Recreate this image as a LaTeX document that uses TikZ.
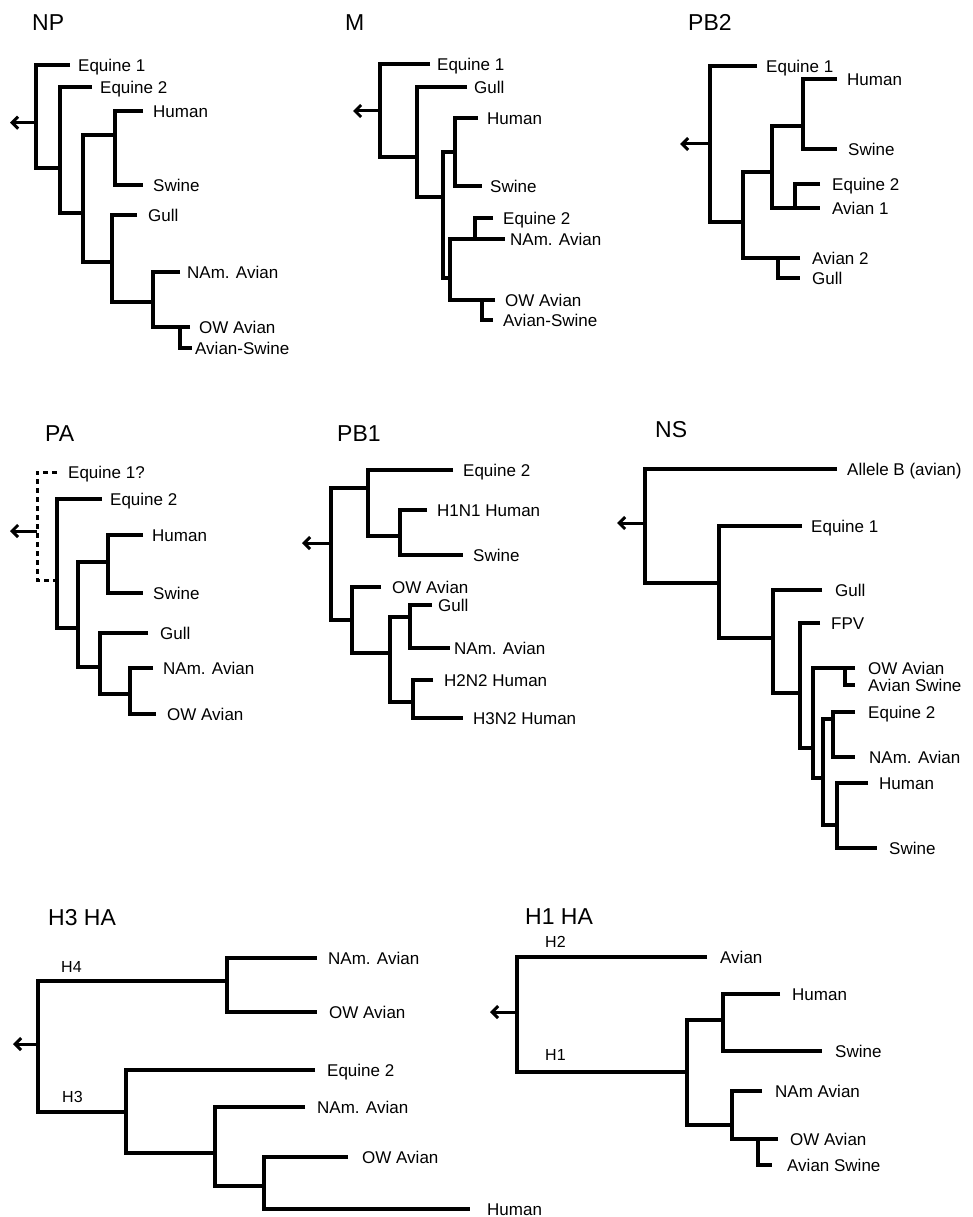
\documentclass[tikz,border=0pt]{standalone}
\usepackage{fontspec}
\setmainfont{Liberation Sans}
\usetikzlibrary{arrows.meta}
\tikzset{
  branche/.style={line width=4pt,line join=miter},
  pointille/.style={line width=3pt,dash pattern=on 5pt off 4pt},
  racine/.style={line width=3pt,-{Straight Barb[length=6pt,width=12pt]}},
  feuille/.style={anchor=west,inner sep=0pt,font=\fontsize{17}{19}\selectfont,
                  text height=12.2pt,text depth=0pt},
  titre/.style={anchor=west,inner sep=0pt,font=\fontsize{23}{26}\selectfont,
                text height=16.5pt,text depth=0pt},
  sous/.style={feuille,font=\fontsize{16}{18}\selectfont,text height=11.5pt},
}

\begin{document}
\begin{tikzpicture}[x=1pt,y=-1pt]
  \useasboundingbox[fill=white] (0,0) rectangle (973,1217);

  % NP
  \node[titre] (t-np) at (32,22) {NP};
  \foreach \nm/\px/\py/\lx/\txt in {e1/70/65/78/Equine 1, e2/92/87/100/Equine 2,
      hu/143/111/153/Human, sw/143/185/153/Swine, gu/137/215/148/Gull,
      na/180/272/187/NAm. Avian, ow/190/327/199/OW Avian, as/192/348/195/Avian-Swine}
    {\coordinate (np-\nm) at (\px,\py); \node[feuille] (np-\nm-l) at (\lx,\py) {\txt};}
  \coordinate (np-r) at (36,122.7);
  \coordinate (np-1) at (60,168);
  \coordinate (np-2) at (83,213);
  \coordinate (np-3) at (115,135);
  \coordinate (np-4) at (112,262);
  \coordinate (np-5) at (153,302);
  \coordinate (np-6) at (180,327);
  \coordinate (np-fl) at (10,122.7);
  \draw[branche] (np-e1) -| (np-r) |- (np-1);
  \draw[branche] (np-e2) -| (np-1) |- (np-2);
  \draw[branche] (np-3) -| (np-2) |- (np-4);
  \draw[branche] (np-hu) -| (np-3) |- (np-sw);
  \draw[branche] (np-gu) -| (np-4) |- (np-5);
  \draw[branche] (np-na) -| (np-5) |- (np-6);
  \draw[branche] (np-ow) -| (np-6) |- (np-as);
  \draw[racine] (np-r) -- (np-fl);

  % M
  \node[titre] (t-m) at (345,22) {M};
  \foreach \nm/\px/\py/\lx/\txt in {e1/430/64/437/Equine 1, gu/467/87/474/Gull,
      hu/478/118/487/Human, sw/482/186/490/Swine, e2/493/218/503/Equine 2,
      na/505/239/510/NAm. Avian, ow/495/300/505/OW Avian, as/493/320/503/Avian-Swine}
    {\coordinate (m-\nm) at (\px,\py); \node[feuille] (m-\nm-l) at (\lx,\py) {\txt};}
  \coordinate (m-r) at (380,111);
  \coordinate (m-1) at (417,157);
  \coordinate (m-2) at (443,197);
  \coordinate (m-3) at (455,152);
  \coordinate (m-4) at (450,278);
  \coordinate (m-5) at (475,239);
  \coordinate (m-6) at (482,300);
  \coordinate (m-fl) at (353,111);
  \draw[branche] (m-e1) -| (m-r) |- (m-1);
  \draw[branche] (m-gu) -| (m-1) |- (m-2);
  \draw[branche] (m-3) -| (m-2) |- (m-4);
  \draw[branche] (m-hu) -| (m-3) |- (m-sw);
  \draw[branche] (m-5) -| (m-4) |- (m-6);
  \draw[branche] (m-e2) -| (m-5) |- (m-na);
  \draw[branche] (m-ow) -| (m-6) |- (m-as);
  \draw[racine] (m-r) -- (m-fl);

  % PB2
  \node[titre] (t-pb2) at (688,22) {PB2};
  \foreach \nm/\px/\py/\lx/\txt in {e1/757/66/766/Equine 1, hu/837/79/847/Human,
      sw/837/149/848/Swine, e2/820/184/832/Equine 2, a1/820/208/832/Avian 1,
      a2/800/258/812/Avian 2, gu/800/278/812/Gull}
    {\coordinate (pb2-\nm) at (\px,\py); \node[feuille] (pb2-\nm-l) at (\lx,\py) {\txt};}
  \coordinate (pb2-r) at (710,144);
  \coordinate (pb2-1) at (743,222);
  \coordinate (pb2-2) at (772,172);
  \coordinate (pb2-3) at (803,126);
  \coordinate (pb2-4) at (795,208);
  \coordinate (pb2-5) at (778,258);
  \coordinate (pb2-fl) at (680,144);
  \draw[branche] (pb2-e1) -| (pb2-r) |- (pb2-1);
  \draw[branche] (pb2-2) -| (pb2-1) |- (pb2-5);
  \draw[branche] (pb2-3) -| (pb2-2) |- (pb2-4);
  \draw[branche] (pb2-hu) -| (pb2-3) |- (pb2-sw);
  \draw[branche] (pb2-e2) -| (pb2-4) |- (pb2-a1);
  \draw[branche] (pb2-a2) -| (pb2-5) |- (pb2-gu);
  \draw[racine] (pb2-r) -- (pb2-fl);

  % PA
  \node[titre] (t-pa) at (45,433) {PA};
  \foreach \nm/\px/\py/\lx/\txt in {e2/102/499/110/Equine 2, hu/143/535/152/Human,
      sw/143/593/153/Swine, gu/148/633/160/Gull, na/153/668/163/NAm. Avian,
      ow/156/714/167/OW Avian}
    {\coordinate (pa-\nm) at (\px,\py); \node[feuille] (pa-\nm-l) at (\lx,\py) {\txt};}
  \coordinate (pa-q1) at (57,472);
  \node[feuille] (pa-q1-l) at (68,472) {Equine 1?};
  \coordinate (pa-r) at (37,531);
  \coordinate (pa-1) at (57,580);
  \coordinate (pa-2) at (78,628);
  \coordinate (pa-3) at (108,562);
  \coordinate (pa-4) at (100,667);
  \coordinate (pa-5) at (130,694);
  \coordinate (pa-fl) at (10,531);
  \draw[pointille] (pa-q1) -| (pa-r) |- (pa-1);
  \draw[branche] (pa-e2) -| (pa-1) |- (pa-2);
  \draw[branche] (pa-3) -| (pa-2) |- (pa-4);
  \draw[branche] (pa-hu) -| (pa-3) |- (pa-sw);
  \draw[branche] (pa-gu) -| (pa-4) |- (pa-5);
  \draw[branche] (pa-na) -| (pa-5) |- (pa-ow);
  \draw[racine] (pa-r) -- (pa-fl);

  % PB1
  \node[titre] (t-pb1) at (337,433) {PB1};
  \foreach \nm/\px/\py/\lx/\txt in {e2/453/470/463/Equine 2, h1/427/510/437/H1N1 Human,
      sw/463/555/473/Swine, ow/381/587/392/OW Avian, gu/432/605/438/Gull,
      na/450/648/454/NAm. Avian, h2/433/680/444/H2N2 Human, h3/463/718/473/H3N2 Human}
    {\coordinate (pb1-\nm) at (\px,\py); \node[feuille] (pb1-\nm-l) at (\lx,\py) {\txt};}
  \coordinate (pb1-r) at (331,543);
  \coordinate (pb1-1) at (368,488);
  \coordinate (pb1-2) at (400,536);
  \coordinate (pb1-4) at (352,620);
  \coordinate (pb1-5) at (390,653);
  \coordinate (pb1-6) at (410,617);
  \coordinate (pb1-7) at (413,702);
  \coordinate (pb1-fl) at (302,543);
  \draw[branche] (pb1-1) -| (pb1-r) |- (pb1-4);
  \draw[branche] (pb1-e2) -| (pb1-1) |- (pb1-2);
  \draw[branche] (pb1-h1) -| (pb1-2) |- (pb1-sw);
  \draw[branche] (pb1-ow) -| (pb1-4) |- (pb1-5);
  \draw[branche] (pb1-6) -| (pb1-5) |- (pb1-7);
  \draw[branche] (pb1-gu) -| (pb1-6) |- (pb1-na);
  \draw[branche] (pb1-h2) -| (pb1-7) |- (pb1-h3);
  \draw[racine] (pb1-r) -- (pb1-fl);

  % NS
  \node[titre] (t-ns) at (655,429) {NS};
  \foreach \nm/\px/\py/\lx/\txt in {ab/837/469/847/{Allele B (avian)}, e1/802/526/811/Equine 1,
      gu/822/590/835/Gull, fp/820/623/831/FPV, ow/855/668/868/OW Avian,
      as/855/685/868/Avian Swine, e2/855/712/868/Equine 2, na/855/757/869/NAm. Avian,
      hu/868/783/879/Human, sw/877/848/889/Swine}
    {\coordinate (ns-\nm) at (\px,\py); \node[feuille] (ns-\nm-l) at (\lx,\py) {\txt};}
  \coordinate (ns-r) at (645,523);
  \coordinate (ns-1) at (719,583);
  \coordinate (ns-2) at (773,638);
  \coordinate (ns-3) at (800,693);
  \coordinate (ns-4) at (813,748);
  \coordinate (ns-5) at (845,668);
  \coordinate (ns-6) at (823,778);
  \coordinate (ns-7) at (833,719);
  \coordinate (ns-8) at (837,825);
  \coordinate (ns-fl) at (617,523);
  \draw[branche] (ns-ab) -| (ns-r) |- (ns-1);
  \draw[branche] (ns-e1) -| (ns-1) |- (ns-2);
  \draw[branche] (ns-gu) -| (ns-2) |- (ns-3);
  \draw[branche] (ns-fp) -| (ns-3) |- (ns-4);
  \draw[branche] (ns-5) -| (ns-4) |- (ns-6);
  \draw[branche] (ns-ow) -| (ns-5) |- (ns-as);
  \draw[branche] (ns-7) -| (ns-6) |- (ns-8);
  \draw[branche] (ns-e2) -| (ns-7) |- (ns-na);
  \draw[branche] (ns-hu) -| (ns-8) |- (ns-sw);
  \draw[racine] (ns-r) -- (ns-fl);

  % H3 HA
  \node[titre] (t-h3) at (48,917) {H3 HA};
  \node[sous] (h3-s4) at (61,967) {H4};
  \node[sous] (h3-s3) at (62,1097) {H3};
  \foreach \nm/\px/\py/\lx/\txt in {na1/317/958/328/NAm. Avian, ow1/317/1012/329/OW Avian,
      e2/315/1070/327/Equine 2, na2/305/1107/317/NAm. Avian, ow2/348/1157/362/OW Avian,
      hu/470/1209/487/Human}
    {\coordinate (h3-\nm) at (\px,\py); \node[feuille] (h3-\nm-l) at (\lx,\py) {\txt};}
  \coordinate (h3-r) at (38,1044);
  \coordinate (h3-1) at (227,981);
  \coordinate (h3-2) at (126,1112);
  \coordinate (h3-3) at (215,1153);
  \coordinate (h3-4) at (264,1186);
  \coordinate (h3-fl) at (13,1044);
  \draw[branche] (h3-1) -| (h3-r) |- (h3-2);
  \draw[branche] (h3-na1) -| (h3-1) |- (h3-ow1);
  \draw[branche] (h3-e2) -| (h3-2) |- (h3-3);
  \draw[branche] (h3-na2) -| (h3-3) |- (h3-4);
  \draw[branche] (h3-ow2) -| (h3-4) |- (h3-hu);
  \draw[racine] (h3-r) -- (h3-fl);

  % H1 HA
  \node[titre] (t-h1) at (525,916) {H1 HA};
  \node[sous] (h1-s2) at (545,942) {H2};
  \node[sous] (h1-s1) at (545,1055) {H1};
  \foreach \nm/\px/\py/\lx/\txt in {av/707/957/720/Avian, hu/780/994/792/Human,
      sw/822/1051/835/Swine, na/762/1091/775/NAm Avian, ow/778/1139/790/OW Avian,
      as/772/1165/787/Avian Swine}
    {\coordinate (h1-\nm) at (\px,\py); \node[feuille] (h1-\nm-l) at (\lx,\py) {\txt};}
  \coordinate (h1-r) at (517,1012);
  \coordinate (h1-1) at (687,1072);
  \coordinate (h1-2) at (723,1020);
  \coordinate (h1-3) at (732,1125);
  \coordinate (h1-4) at (758,1139);
  \coordinate (h1-fl) at (490,1012);
  \draw[branche] (h1-av) -| (h1-r) |- (h1-1);
  \draw[branche] (h1-2) -| (h1-1) |- (h1-3);
  \draw[branche] (h1-hu) -| (h1-2) |- (h1-sw);
  \draw[branche] (h1-na) -| (h1-3) |- (h1-4);
  \draw[branche] (h1-ow) -| (h1-4) |- (h1-as);
  \draw[racine] (h1-r) -- (h1-fl);
\end{tikzpicture}
\end{document}
